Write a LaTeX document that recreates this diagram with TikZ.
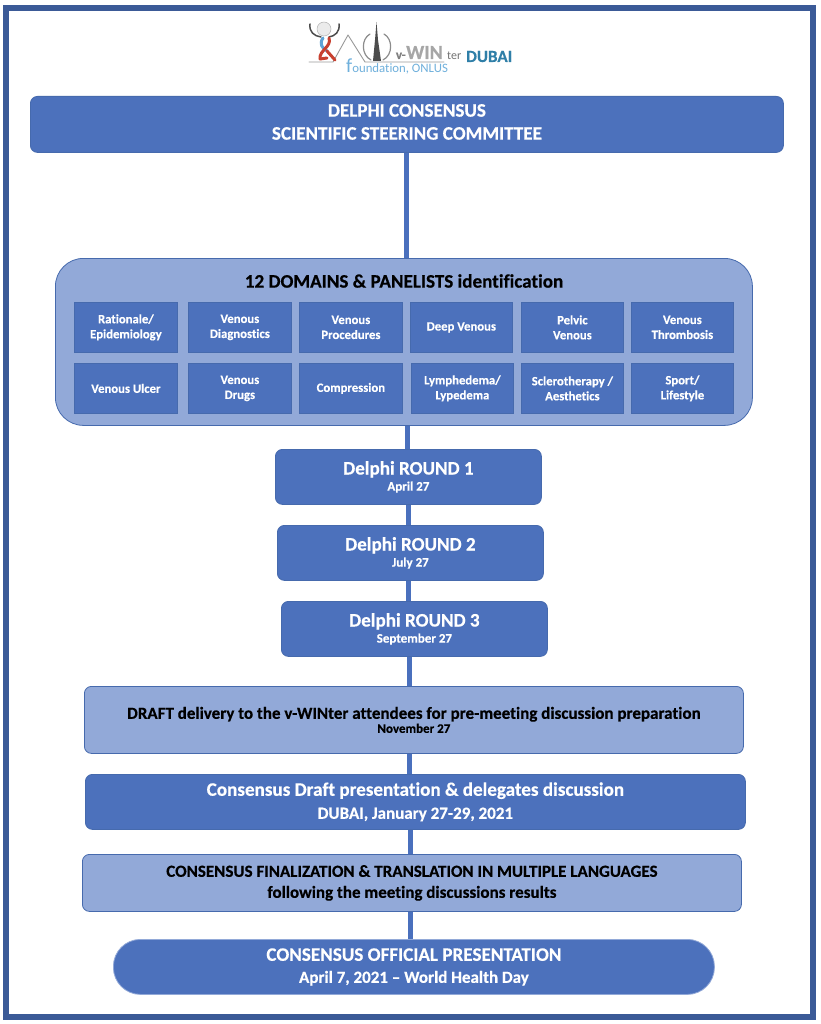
\documentclass[tikz,border=0pt]{standalone}
\usepackage{fontspec}
\setmainfont{Carlito}[Ligatures=CommonOff,BoldFeatures={FakeBold=0.4}]
\usetikzlibrary{backgrounds}
\definecolor{mainblue}{HTML}{4C71BC}
\definecolor{lightblue}{HTML}{92A9D8}
\definecolor{edgeblue}{HTML}{466AAD}
\definecolor{framecol}{HTML}{3B5A97}
\definecolor{linkblue}{HTML}{4A70BD}
\definecolor{logored}{HTML}{C8402F}
\definecolor{logoblue}{HTML}{5FA3D6}
\definecolor{logoteal}{HTML}{2F7FA8}
\definecolor{logocyan}{HTML}{6FB0DC}
\tikzset{
 x=1pt,y=-1pt,
 darkbox/.style={draw=edgeblue,line width=0.8pt,fill=mainblue,text=white,font=\bfseries,align=center,inner sep=0pt,rounded corners=7pt},
 lightbox/.style={draw=edgeblue,line width=0.8pt,fill=lightblue,text=black,font=\bfseries,align=center,inner sep=0pt,rounded corners=7pt},
 cell/.style={draw=edgeblue,line width=0.8pt,fill=mainblue,text=white,font=\bfseries\fontsize{12.7}{15}\selectfont,align=center,inner sep=0pt,minimum height=50pt,minimum width=103pt,anchor=north west},
 link/.style={linkblue,line width=5pt},
 big/.style={font=\bfseries\fontsize{19.1}{23}\selectfont},
}
\newcommand{\subl}[1]{{\fontsize{13}{16}\selectfont #1}}
\begin{document}
\begin{tikzpicture}
\useasboundingbox (0,0) rectangle (820,1024);
\begin{scope}[on background layer]
\fill[white] (0,0) rectangle (820,1024);
\end{scope}
\draw[framecol,line width=6pt] (6,8) rectangle (812.5,1017);

% logo
\begin{scope}[line cap=round,line join=round]
\draw[black!40,line width=0.9pt] (309,62) -- (333,62) -- (348,35) -- (365,62) -- (444,62);
\draw[black!70,line width=1.5pt] (310,24) .. controls (309,32) and (314,36) .. (321,37);
\draw[black!70,line width=1.5pt] (339,24) .. controls (340,32) and (335,36) .. (329,37);
\draw[black!30,fill=black!8,line width=0.5pt] (324,29) circle (7pt);
\draw[logoblue,line width=3pt] (323,38) .. controls (319,44) and (322,48) .. (327,51);
\draw[logored,line width=3pt] (329,38) .. controls (332,47) and (319,50) .. (320,59);
\draw[logored,line width=3pt] (320,59) -- (327,58);
\draw[logored,line width=3pt] (327,51) -- (335,60);
\draw[black!45,line width=1.2pt] (370,34) .. controls (361,39) and (361,55) .. (371,60);
\draw[black!45,line width=1.2pt] (384,34) .. controls (393,39) and (393,55) .. (383,60);
\fill[black!70] (373,61) -- (375,40) -- (376.5,22) -- (378,40) -- (381,61) -- cycle;
\end{scope}
\node[anchor=base east,inner sep=0pt] (logowin) at (443,59) {\bfseries\fontsize{20}{20}\selectfont\textcolor{black!35}{WIN}};
\node[anchor=base east,inner sep=0pt] (logov) at (logowin.base west) {\bfseries\fontsize{13}{13}\selectfont\textcolor{black!50}{v-}};
\node[anchor=base west,inner sep=0pt] (logot) at (447,60) {\fontsize{12}{12}\selectfont\textcolor{black!55}{ter}};
\node[anchor=base west,inner sep=0pt] (logod) at (466,62) {\bfseries\fontsize{17}{17}\selectfont\textcolor{logoteal}{DUBAI}};
\node[anchor=base west,inner sep=0pt] (logof) at (346,73) {\fontsize{12.8}{13}\selectfont\textcolor{logocyan}{{\fontsize{20}{20}\selectfont f}oundation, ONLUS}};

% main boxes
\node[darkbox,big,minimum width=753pt,minimum height=56pt,anchor=north west] (top) at (30,96) {DELPHI CONSENSUS\\SCIENTIFIC STEERING COMMITTEE\\[-18pt]\mbox{}};
\node[lightbox,rounded corners=28pt,minimum width=697pt,minimum height=167pt,anchor=north west] (domains) at (55,258) {};
\node[font=\bfseries\fontsize{19.1}{22}\selectfont] (domtitle) at (404,281) {12 DOMAINS \& PANELISTS identification};

\node[cell] (c1) at (74,302) {Rationale/\\Epidemiology};
\node[cell] (c2) at (188,302) {Venous\\Diagnostics};
\node[cell] (c3) at (299,302) {Venous\\Procedures};
\node[cell,minimum width=102pt] (c4) at (410,302) {Deep Venous};
\node[cell,minimum width=102pt] (c5) at (521,302) {Pelvic\\Venous};
\node[cell,minimum width=102pt] (c6) at (631,302) {Venous\\Thrombosis};
\node[cell] (c7) at (74,363) {Venous Ulcer};
\node[cell] (c8) at (188,363) {Venous\\Drugs};
\node[cell] (c9) at (299,363) {Compression};
\node[cell,minimum width=102pt] (c10) at (411,363) {Lymphedema/\\Lypedema};
\node[cell,minimum width=102pt] (c11) at (521,363) {Sclerotherapy /\\Aesthetics};
\node[cell,minimum width=102pt] (c12) at (631,363) {Sport/\\Lifestyle};

\node[darkbox,minimum width=266pt,minimum height=55pt,anchor=north west] (r1) at (275,449) {{\fontsize{19.1}{22}\selectfont Delphi ROUND 1}\\[3pt]\subl{April 27}};
\node[darkbox,minimum width=266pt,minimum height=55pt,anchor=north west] (r2) at (277,525) {{\fontsize{19.1}{22}\selectfont Delphi ROUND 2}\\[3pt]\subl{July 27}};
\node[darkbox,minimum width=266pt,minimum height=55pt,anchor=north west] (r3) at (281,601) {{\fontsize{19.1}{22}\selectfont Delphi ROUND 3}\\[3pt]\subl{September 27}};

\node[lightbox,minimum width=659pt,minimum height=67pt,anchor=north west] (draft) at (84,686) {{\fontsize{17}{20}\selectfont DRAFT delivery to the v-WINter attendees for pre-meeting discussion preparation}\\[1pt]\subl{November 27}};
\node[darkbox,big,minimum width=660pt,minimum height=55pt,anchor=north west] (pres) at (85,774) {Consensus Draft presentation \& delegates discussion\\{\fontsize{17}{21}\selectfont DUBAI, January 27-29, 2021}};
\node[lightbox,minimum width=659pt,minimum height=57pt,anchor=north west,font=\bfseries\fontsize{17}{21}\selectfont] (final) at (82,854) {CONSENSUS FINALIZATION \& TRANSLATION IN MULTIPLE LANGUAGES\\following the meeting discussions results};
\node[darkbox,big,draw=lightblue,rounded corners=27pt,minimum width=601pt,minimum height=55pt,anchor=north west] (off) at (113,939) {CONSENSUS OFFICIAL PRESENTATION\\[-1pt]{\fontsize{17}{21}\selectfont April 7, 2021 – World Health Day}};

% connectors
\coordinate (sa) at (406.5,0);
\coordinate (sb) at (407.5,0);
\coordinate (sc) at (408,0);
\coordinate (sd) at (408.5,0);
\coordinate (se) at (409,0);
\coordinate (sf) at (409.5,0);
\coordinate (sg) at (410,0);
\begin{scope}[on background layer]
\draw[link] (top.south -| sa) -- (domains.north -| sa);
\draw[link] (domains.south -| sb) -- (r1.north -| sb);
\draw[link] (r1.south -| sc) -- (r2.north -| sc);
\draw[link] (r2.south -| sd) -- (r3.north -| sd);
\draw[link] (r3.south -| se) -- (draft.north -| se);
\draw[link] (draft.south -| sf) -- (pres.north -| sf);
\draw[link] (pres.south -| sg) -- (final.north -| sg);
\draw[link] (final.south -| sg) -- (off.north -| sg);
\end{scope}
\end{tikzpicture}
\end{document}
